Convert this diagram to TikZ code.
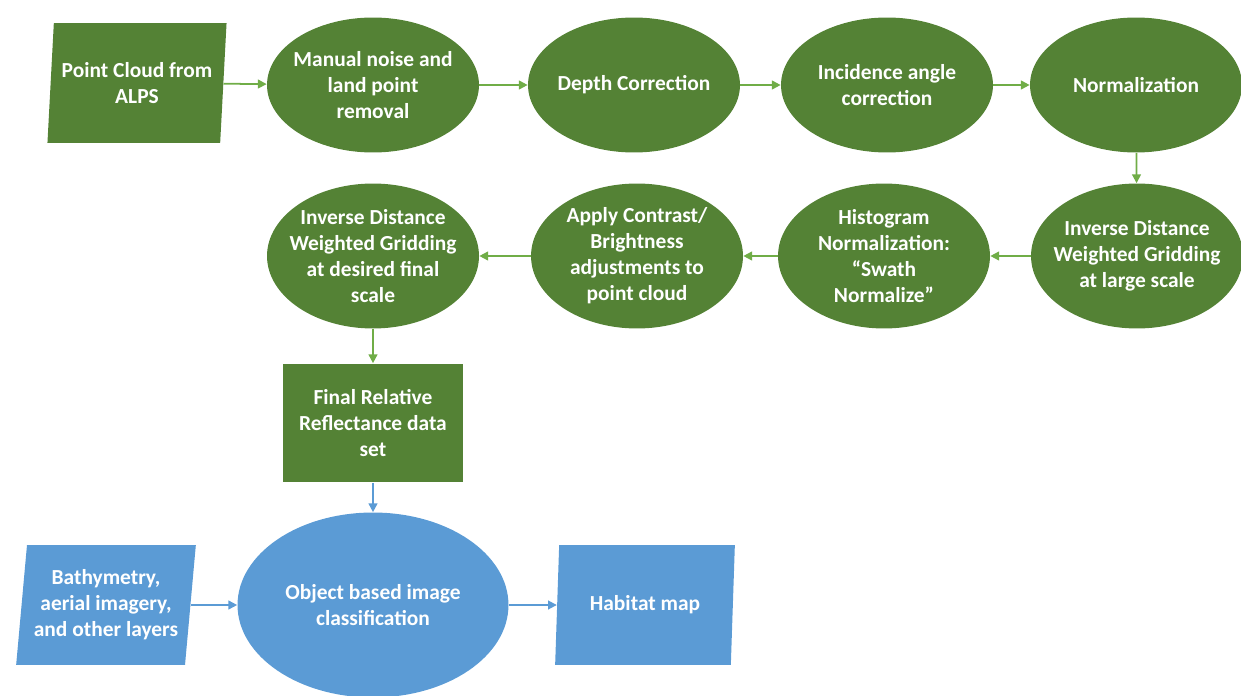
\documentclass[tikz,border=0pt]{standalone}
\usepackage{fontspec}
\setmainfont{Carlito}
\usetikzlibrary{shapes.geometric, arrows.meta, positioning}
\definecolor{leafgreen}{HTML}{548235}
\definecolor{lightgreen}{HTML}{70AD47}
\definecolor{skyblue}{HTML}{5B9BD5}
\tikzset{
  txt/.style   = {text=white, align=center, inner sep=0pt,
                  font=\bfseries\fontsize{12.2}{14.8}\selectfont},
  proc/.style  = {txt, ellipse, fill=leafgreen, inner sep=-5pt,
                  minimum width=4.24cm, minimum height=2.7cm},
  procb/.style = {proc, minimum height=2.9cm},
  io/.style    = {txt, trapezium, trapezium left angle=82, trapezium right angle=98,
                  trapezium stretches=true, minimum width=3.6cm, minimum height=2.4cm},
  box/.style   = {txt, rectangle, fill=leafgreen,
                  minimum width=3.6cm, minimum height=2.38cm},
  garr/.style  = {-{Triangle[length=5pt,width=5pt]}, line width=1pt, draw=lightgreen},
  barr/.style  = {-{Triangle[length=5pt,width=5pt]}, line width=1pt, draw=skyblue},
}

\begin{document}
\begin{tikzpicture}[x=0.02cm, y=-0.02cm]
  \useasboundingbox (0,0) rectangle (1241,696);

  % Top row
  \node[io, fill=leafgreen] (alps) at (137,83) {Point Cloud from\\ALPS};
  \node[proc] (noise) at (373,85) {Manual noise and\\land point\\removal};
  \node[proc] (depth) at (634,85) {Depth Correction};
  \node[proc] (incid) at (887,85) {Incidence angle\\correction};
  \node[proc] (norm)  at (1136,85) {Normalization};

  % Second row
  \node[procb] (idwl) at (1137,256) {Inverse Distance\\Weighted Gridding\\at large scale};
  \node[procb] (hist) at (884,256) {Histogram\\Normalization:\\``Swath\\Normalize''};
  \node[procb] (cont) at (637,256) {Apply Contrast/\\Brightness\\adjustments to\\point cloud};
  \node[procb] (idwf) at (373,256) {Inverse Distance\\Weighted Gridding\\at desired final\\scale};

  % Final data set
  \node[box] (refl) at (373,423) {Final Relative\\Reflectance data\\set};

  % Classification
  \node[txt, ellipse, fill=skyblue, minimum width=5.42cm, minimum height=3.7cm]
        (obia) at (373,605) {Object based image\\classification};
  \node[io, fill=skyblue] (bathy) at (106,605) {Bathymetry,\\aerial imagery,\\and other layers};
  \node[io, fill=skyblue] (habit) at (645,605) {Habitat map};

  % Arrows
  \draw[garr] (alps) -- (noise);
  \draw[garr] (noise) -- (depth);
  \draw[garr] (depth) -- (incid);
  \draw[garr] (incid) -- (norm);
  \draw[garr] (norm) -- (idwl);
  \draw[garr] (idwl) -- (hist);
  \draw[garr] (hist) -- (cont);
  \draw[garr] (cont) -- (idwf);
  \draw[garr] (idwf) -- (refl);
  \draw[barr] (refl) -- (obia);
  \draw[barr] (bathy) -- (obia);
  \draw[barr] (obia) -- (habit);
\end{tikzpicture}
\end{document}
